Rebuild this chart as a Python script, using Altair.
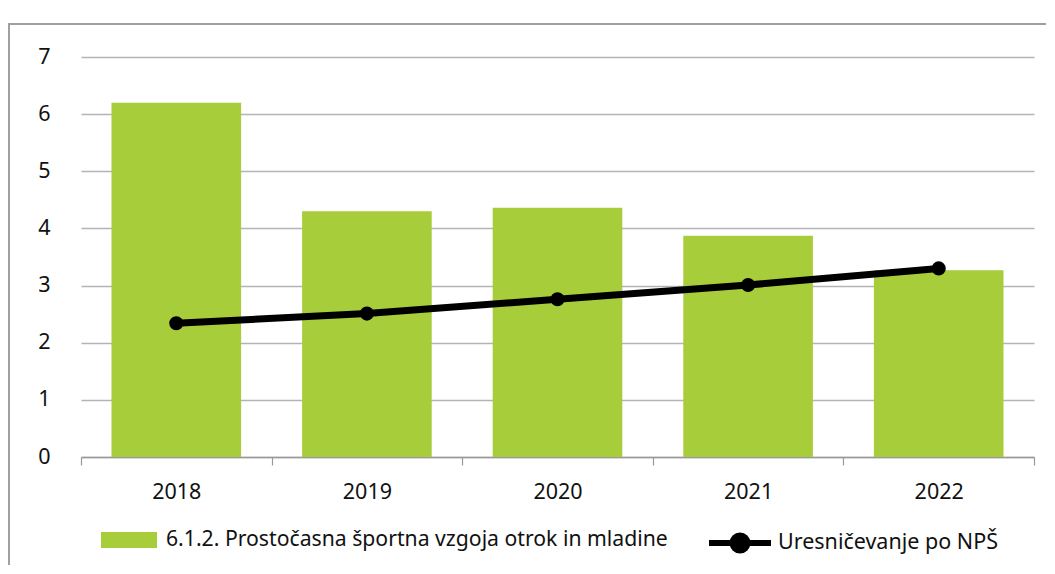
import altair as alt
import pandas as pd

years = ["2018", "2019", "2020", "2021", "2022"]
bar_values = [6.2, 4.3, 4.36, 3.87, 3.27]
line_values = [2.34, 2.51, 2.76, 3.01, 3.3]
bar_name = "6.1.2. Prostočasna športna vzgoja otrok in mladine"
line_name = "Uresničevanje po NPŠ"
y_ticks = [0, 1, 2, 3, 4, 5, 6, 7]

df = pd.DataFrame({
    "year": years,
    "bar": bar_values,
    "line": line_values,
    "bar_series": [bar_name] * len(years),
    "line_series": [line_name] * len(years),
})

FONT = "Noto Sans"
GREEN = "#a7cd3a"
TXT = "#111111"

x_enc = alt.X(
    "year:N",
    title=None,
    sort=years,
    scale=alt.Scale(paddingInner=0, paddingOuter=0),
    axis=alt.Axis(
        labelAngle=0, labelFontSize=21.5, labelFont=FONT, labelColor=TXT,
        labelPadding=16, domainColor="#9a9a9a", domainWidth=1.5,
        tickColor="#9a9a9a", tickWidth=1.2, tickSize=8, tickBand="extent",
        grid=False,
    ),
)

bars = alt.Chart(df).mark_bar(color=GREEN, width=alt.RelativeBandSize(0.68)).encode(
    x=x_enc,
    y=alt.Y(
        "bar:Q",
        title=None,
        scale=alt.Scale(domain=[0, 7], nice=False),
        axis=alt.Axis(
            values=y_ticks, format="d", labelFontSize=21.5, labelFont=FONT,
            labelColor=TXT, labelPadding=31, domain=False, ticks=False,
            grid=True, gridColor="#b4b4b4", gridWidth=1.6,
        ),
    ),
    fill=alt.Fill(
        "bar_series:N",
        scale=alt.Scale(domain=[bar_name], range=[GREEN]),
        legend=alt.Legend(
            title=None, orient="none", legendX=20, legendY=455,
            symbolType="M-1,-0.29H1V0.29H-1Z", symbolSize=3136,
            symbolStrokeWidth=0, labelFontSize=21.2, labelFont=FONT,
            labelColor=TXT, labelOffset=9, labelLimit=0,
        ),
    ),
)

line = alt.Chart(df).mark_line(color="black", strokeWidth=7).encode(
    x=alt.X("year:N", sort=years),
    y=alt.Y("line:Q"),
    stroke=alt.Stroke(
        "line_series:N",
        scale=alt.Scale(domain=[line_name], range=["black"]),
        legend=alt.Legend(
            title=None, orient="none", legendX=625, legendY=452,
            symbolType="M-1,0H1M-0.24,0A0.24,0.24 0 1,0 0.24,0A0.24,0.24 0 1,0 -0.24,0Z",
            symbolSize=3844, symbolStrokeWidth=6, symbolFillColor="black",
            labelFontSize=21.5, labelFont=FONT, labelColor=TXT, labelOffset=4,
            labelLimit=0,
        ),
    ),
)

points = alt.Chart(df).mark_circle(color="black", size=200, opacity=1).encode(
    x=alt.X("year:N", sort=years),
    y=alt.Y("line:Q"),
)

frame = alt.Chart(df).mark_rect(
    fill=None, stroke="#a0a0a0", strokeWidth=1.5, clip=False
).encode(
    x=alt.value(-72), x2=alt.value(1100), y=alt.value(-33), y2=alt.value(700)
)

chart = alt.layer(frame, bars, line, points).resolve_scale(
    fill="independent", stroke="independent"
).properties(
    width=953, height=400,
    autosize=alt.AutoSizeParams(type="none"),
    padding={"left": 73, "top": 49, "right": 12, "bottom": 108},
).configure_view(stroke=None)

chart.save("out.html", embed_options={"renderer": "svg", "actions": False})
